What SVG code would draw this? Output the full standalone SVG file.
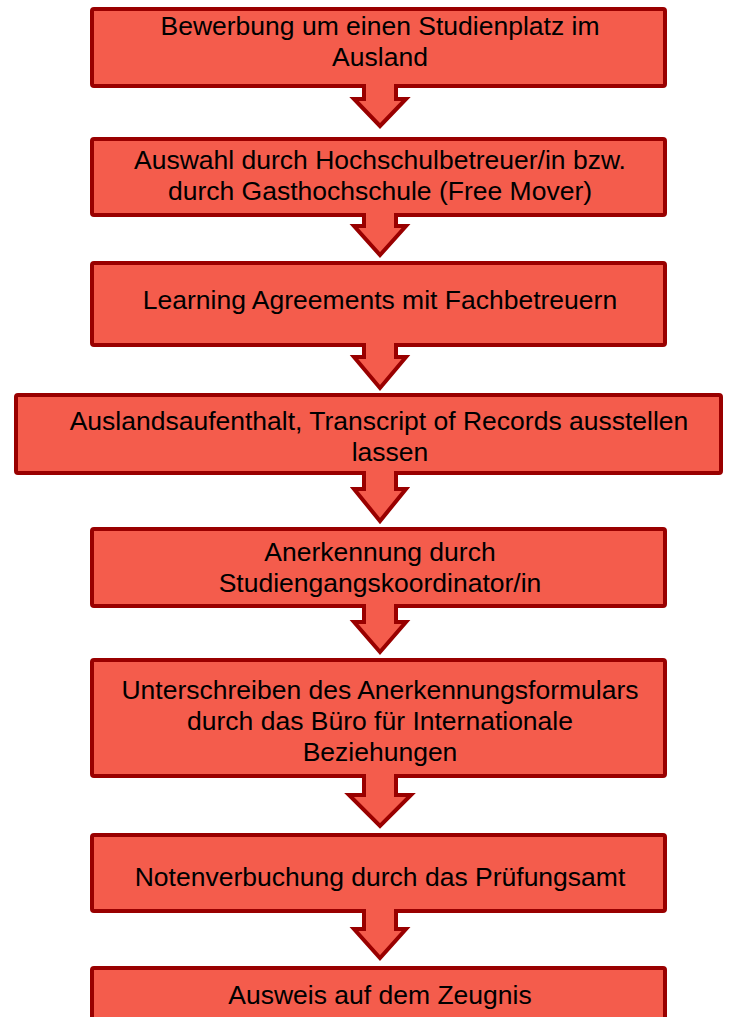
<svg xmlns="http://www.w3.org/2000/svg" width="734" height="1017" viewBox="0 0 734 1017">
<style>
.box{fill:#F45C4C;stroke:#990000;stroke-width:4}
.arr{fill:#F45C4C;stroke:#990000;stroke-width:4;stroke-linejoin:miter}
text{font-family:"Liberation Sans",Arial,sans-serif;font-size:26.5px;fill:#000;text-anchor:middle}
</style>
<rect width="734" height="1017" fill="#fff"/>
<g id="n1"><rect class="box" x="92" y="9" width="573" height="77" rx="2"/>
<text x="380" y="35">Bewerbung um einen Studienplatz im</text><text x="380" y="66">Ausland</text></g>
<g id="n2"><rect class="box" x="92" y="139" width="573" height="76" rx="2"/>
<text x="380" y="169">Auswahl durch Hochschulbetreuer/in bzw.</text><text x="380" y="200">durch Gasthochschule (Free Mover)</text></g>
<g id="n3"><rect class="box" x="92" y="263" width="573" height="82" rx="2"/>
<text x="380" y="309">Learning Agreements mit Fachbetreuern</text></g>
<g id="n4"><rect class="box" x="16" y="395" width="705" height="78" rx="2"/>
<text x="379" y="430">Auslandsaufenthalt, Transcript of Records ausstellen</text><text x="390" y="461">lassen</text></g>
<g id="n5"><rect class="box" x="92" y="529" width="573" height="77" rx="2"/>
<text x="380" y="561">Anerkennung durch</text><text x="380" y="592">Studiengangskoordinator/in</text></g>
<g id="n6"><rect class="box" x="92" y="660" width="573" height="116" rx="2"/>
<text x="380" y="699">Unterschreiben des Anerkennungsformulars</text><text x="380" y="730">durch das Büro für Internationale</text><text x="380" y="761">Beziehungen</text></g>
<g id="n7"><rect class="box" x="92" y="835" width="573" height="76" rx="2"/>
<text x="380" y="886">Notenverbuchung durch das Prüfungsamt</text></g>
<g id="n8"><rect class="box" x="92" y="968" width="573" height="60" rx="2"/>
<text x="380" y="1004">Ausweis auf dem Zeugnis</text></g>
<g id="connectors">
<path class="arr" d="M364,84 V99 H354 L380,126 L406,99 H396 V84"/>
<path class="arr" d="M364,213 V226 H354 L380,255 L406,226 H396 V213"/>
<path class="arr" d="M364,343 V357 H354 L380,388 L406,357 H396 V343"/>
<path class="arr" d="M364,471 V489 H354 L380,521 L406,489 H396 V471"/>
<path class="arr" d="M364,604 V622 H354 L380,652 L406,622 H396 V604"/>
<path class="arr" d="M364,774 V795 H349 L380,826 L411,795 H396 V774"/>
<path class="arr" d="M364,909 V929 H354 L380,958 L406,929 H396 V909"/>
</g>
</svg>
